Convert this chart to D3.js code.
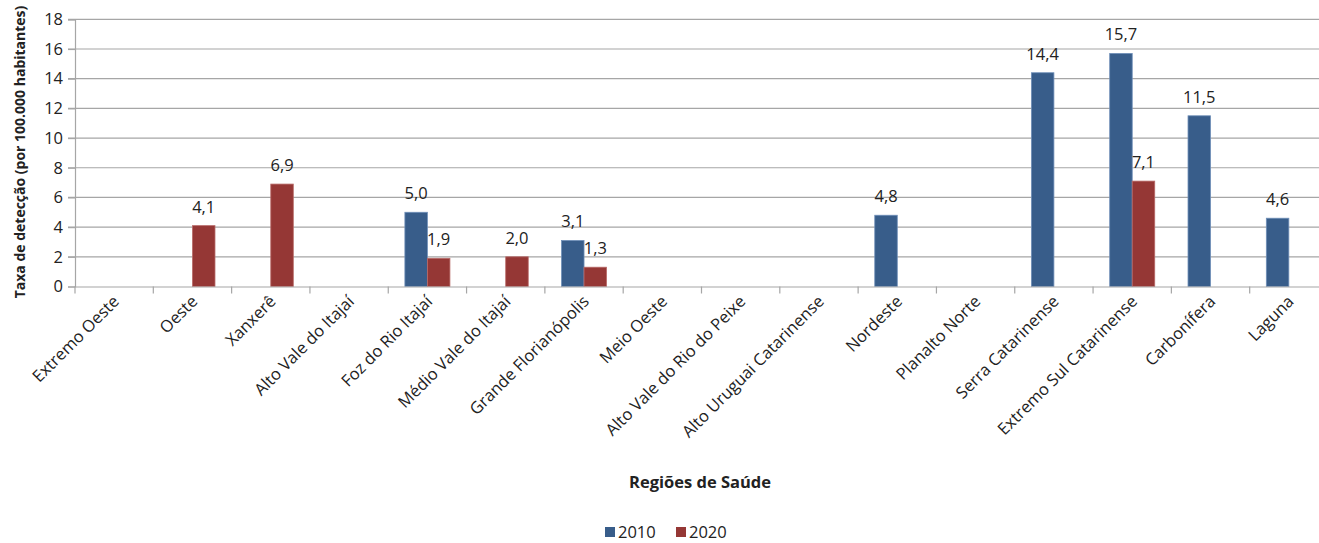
<!DOCTYPE html>
<html>
<head>
<meta charset="utf-8">
<script src="https://cdn.jsdelivr.net/npm/d3@7"></script>
<style>
  html, body { margin: 0; padding: 0; background: #fff; }
  svg { display: block; }
  text { font-family: "Open Sans", "Noto Sans", sans-serif; fill: #222; }
</style>
</head>
<body>
<svg id="chart" width="1319" height="543"></svg>
<script>
// Regiões de Saúde (eixo x)
const categories = [
  "Extremo Oeste", "Oeste", "Xanxerê", "Alto Vale do Itajaí", "Foz do Rio Itajaí",
  "Médio Vale do Itajaí", "Grande Florianópolis", "Meio Oeste", "Alto Vale do Rio do Peixe",
  "Alto Uruguai Catarinense", "Nordeste", "Planalto Norte", "Serra Catarinense",
  "Extremo Sul Catarinense", "Carbonífera", "Laguna"
];
// Taxa de detecção por 100.000 habitantes (null = sem barra)
const values2010 = [null, null, null, null, 5.0, null, 3.1, null, null, null, 4.8, null, 14.4, 15.7, 11.5, 4.6];
const values2020 = [null, 4.1, 6.9, null, 1.9, 2.0, 1.3, null, null, null, null, null, null, 7.1, null, null];
const seriesNames = ["2010", "2020"];
const yTicks = [0, 2, 4, 6, 8, 10, 12, 14, 16, 18];

const colors = { "2010": "#385d8a", "2020": "#953735" };
const strokes = { "2010": "#6f8fb8", "2020": "#b86a68" };

const svg = d3.select("#chart");
const margin = { left: 75, top: 19.3, right: -9, bottom: 543 - 286.5 };
const width = 1319 - margin.left - margin.right;
const height = 543 - margin.top - margin.bottom;

const g = svg.append("g").attr("transform", `translate(${margin.left},${margin.top})`);

const x = d3.scaleBand().domain(categories).range([0, width]).paddingInner(0).paddingOuter(0);
const groupFrac = 0.575;
const xs = d3.scaleBand().domain(seriesNames)
  .range([x.bandwidth() * (1 - groupFrac) / 2, x.bandwidth() * (1 + groupFrac) / 2]);
const y = d3.scaleLinear().domain([0, 18]).range([height, 0]);

// horizontal gridlines
g.append("g").selectAll("line").data(yTicks.filter(t => t > 0)).join("line")
  .attr("x1", -7).attr("x2", width)
  .attr("y1", d => y(d)).attr("y2", d => y(d))
  .attr("stroke", "#a6a6a6").attr("stroke-width", 1.2);

// y axis
const yAxis = g.append("g").call(d3.axisLeft(y).tickValues(yTicks).tickSize(7).tickPadding(5).tickFormat(d3.format("d")));
yAxis.select(".domain").attr("stroke", "#a6a6a6").attr("stroke-width", 1.2);
yAxis.selectAll(".tick line").attr("stroke", "#a6a6a6").attr("stroke-width", 1.2);
yAxis.selectAll(".tick text").attr("font-size", 16.5).attr("fill", "#333")
  .attr("font-family", "'Open Sans', sans-serif");

// bars
const rows = categories.map((c, i) => ({ c, vals: [
  { s: "2010", v: values2010[i] }, { s: "2020", v: values2020[i] }
].filter(d => d.v !== null) }));

const groups = g.append("g").selectAll("g").data(rows).join("g")
  .attr("transform", d => `translate(${x(d.c)},0)`);

groups.selectAll("rect").data(d => d.vals).join("rect")
  .attr("x", d => xs(d.s)).attr("width", xs.bandwidth())
  .attr("y", d => y(d.v)).attr("height", d => height - y(d.v))
  .attr("fill", d => colors[d.s]).attr("stroke", d => strokes[d.s]).attr("stroke-width", 0.8);

groups.selectAll("text.lbl").data(d => d.vals).join("text").attr("class", "lbl")
  .attr("x", d => xs(d.s) + xs.bandwidth() / 2)
  .attr("y", d => y(d.v) - 13)
  .attr("text-anchor", "middle").attr("font-size", 16.5)
  .text(d => d3.format(".1f")(d.v).replace(".", ","));

// x axis
const xAxis = g.append("g").attr("transform", `translate(0,${height})`)
  .call(d3.axisBottom(x).tickSize(0).tickFormat(""));
xAxis.select(".domain").attr("stroke", "#a6a6a6").attr("stroke-width", 1.2);
g.append("g").attr("transform", `translate(0,${height})`)
  .selectAll("line").data(d3.range(categories.length + 1)).join("line")
  .attr("x1", i => i * x.step()).attr("x2", i => i * x.step())
  .attr("y1", 0).attr("y2", 7).attr("stroke", "#a6a6a6").attr("stroke-width", 1.2);

g.append("g").selectAll("text").data(categories).join("text")
  .attr("transform", d => `translate(${x(d) + x.bandwidth() / 2 + 6},${height + 16}) rotate(-45)`)
  .attr("text-anchor", "end").attr("font-size", 16.5).attr("fill", "#333")
  .text(d => d);

// axis titles
svg.append("text")
  .attr("transform", `translate(25,${152}) rotate(-90)`)
  .attr("text-anchor", "middle").attr("font-size", 14).attr("font-weight", "bold")
  .attr("font-family", "'Noto Sans', sans-serif")
  .text("Taxa de detecção (por 100.000 habitantes)");

svg.append("text")
  .attr("x", 700).attr("y", 488)
  .attr("text-anchor", "middle").attr("font-size", 16.5).attr("font-weight", "bold")
  .attr("font-family", "'Noto Sans', sans-serif")
  .text("Regiões de Saúde");

// legend
const legend = svg.append("g").attr("transform", "translate(605,527)");
const legendX = [0, 71];
seriesNames.forEach((s, i) => {
  legend.append("rect").attr("x", legendX[i]).attr("y", 0).attr("width", 10).attr("height", 10)
    .attr("fill", colors[s]);
  legend.append("text").attr("x", legendX[i] + 13).attr("y", 10.5)
    .attr("font-size", 16.5).text(s);
});
</script>
</body>
</html>
